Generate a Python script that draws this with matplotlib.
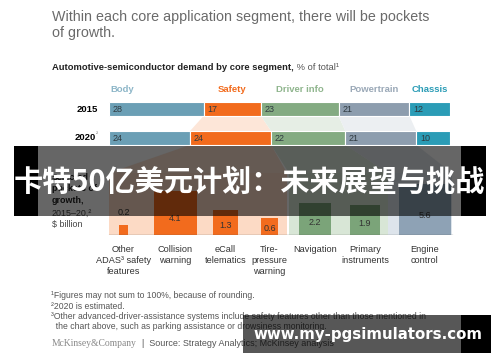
import numpy as np
import matplotlib.pyplot as plt

# ---- data ----
segments = ["Body", "Safety", "Driver info", "Powertrain", "Chassis"]
share_2015 = [28, 17, 23, 21, 12]
share_2020 = [24, 24, 22, 21, 10]
years = ["2015", "2020"]

pockets = ["Other\nADAS³ safety\nfeatures", "Collision\nwarning", "eCall\ntelematics",
           "Tire-\npressure\nwarning", "Navigation", "Primary\ninstruments", "Engine\ncontrol"]
growth = [0.2, 4.1, 1.3, 0.6, 2.2, 1.9, 5.6]
pocket_segment = ["Safety", "Safety", "Safety", "Safety", "Driver info", "Driver info", "Powertrain"]

footnotes = ["¹Figures may not sum to 100%, because of rounding.",
             "²2020 is estimated.",
             "³Other advanced-driver-assistance systems include safety features other than those mentioned in",
             "  the chart above, such as parking assistance or drowsiness monitoring."]

# ---- styles / layout ----
seg_colors = {"Body": "#6b9fb5", "Safety": "#f26b1d", "Driver info": "#84ab82",
              "Powertrain": "#8d9dae", "Chassis": "#2b9cb6"}
head_colors = {"Body": "#8db6c8", "Safety": "#f26b1d", "Driver info": "#8fb58d",
               "Powertrain": "#9aa8b7", "Chassis": "#2b9cb6"}
band_colors = {"Safety": "#fcdac5", "Driver info": "#d8e6d6", "Powertrain": "#dde4eb"}
link_colors = {"Safety": "#fde6d8", "Driver info": "#e6eee5", "Powertrain": "#eceff2"}
square_colors = {"Safety": "#f26b1d", "Driver info": "#7ba479", "Powertrain": "#8ea2b5"}
band_span = {"Safety": (109, 287), "Driver info": (289, 388), "Powertrain": (388, 452)}
pocket_x = [123.5, 175.5, 225.5, 269.5, 315, 365, 425]
K = 21.7  # px per sqrt($bn)

FONT = "Liberation Sans"
W, H = 500, 362
fig = plt.figure(figsize=(W / 100, H / 100), dpi=100)


def px_axes(x0, y0, x1, y1, z):
    return fig.add_axes([x0 / W, 1 - y1 / H, (x1 - x0) / W, (y1 - y0) / H], zorder=z)


bg = px_axes(0, 0, W, H, 0)
bg.set_xlim(0, W)
bg.set_ylim(H, 0)
bg.axis("off")


def to_bg(ax, x, y):
    return bg.transData.inverted().transform(ax.transData.transform((x, y)))


# ---- top stacked bars ----
ax = px_axes(109, 96, 450, 151, 2)
ax.set_xlim(0, sum(share_2015))
ax.set_ylim(1.45, -0.45)
ax.axis("off")
ax.patch.set_alpha(0)
bh = 0.48
lefts = {}
for row, vals in enumerate([share_2015, share_2020]):
    left = np.concatenate([[0], np.cumsum(vals)[:-1]])
    lefts[row] = left
    for seg, l, v in zip(segments, left, vals):
        ax.barh(row, v, left=l, height=bh, color=seg_colors[seg], edgecolor="white", lw=0.8)
        ax.text(l + 1.1, row + 0.02, str(v), ha="left", va="center", fontsize=6.5,
                color="#2f3a40", family=FONT)

# headers
for i, seg in enumerate(segments):
    if i == 0:
        ax.text(lefts[0][i] + 0.3, -0.66, seg, ha="left", va="center", fontsize=6.8,
                weight="bold", color=head_colors[seg], family=FONT, clip_on=False)
    else:
        ax.text(lefts[0][i] + share_2015[i] / 2, -0.66, seg, ha="center", va="center",
                fontsize=6.8, weight="bold", color=head_colors[seg], family=FONT, clip_on=False)

# row labels
ax.text(-3.2, 0, "2015", ha="right", va="center", fontsize=6.8, weight="bold", family=FONT)
t20 = ax.text(-3.9, 1, "2020", ha="right", va="center", fontsize=6.8, weight="bold", family=FONT)
ax.annotate("²", xy=(1, 0.55), xycoords=t20, ha="left", va="bottom", fontsize=4.8,
            color="#888888", family=FONT)

# connectors 2015 -> 2020
for i, seg in enumerate(segments):
    if seg not in band_colors:
        continue
    a0, a1 = lefts[0][i], lefts[0][i] + share_2015[i]
    b0, b1 = lefts[1][i], lefts[1][i] + share_2020[i]
    y0, y1 = bh / 2, 1 - bh / 2
    ax.fill([a0, a1, b1, b0], [y0, y0, y1, y1], color=link_colors[seg], lw=0, zorder=0)

# ---- lower pockets chart ----
ax2 = px_axes(100, 145, 460, 235, 2)
ax2.set_xlim(100, 460)
ax2.set_ylim(0, 90)
ax2.axis("off")
ax2.patch.set_alpha(0)

band_top = 62
for i, seg in enumerate(segments):
    if seg not in band_colors:
        continue
    x0, x1 = band_span[seg]
    ax2.bar((x0 + x1) / 2, band_top, width=x1 - x0, color=band_colors[seg], lw=0, zorder=0)
    # trapezoid from 2020 segment down to the band
    p0 = to_bg(ax, lefts[1][i], 1 + bh / 2)
    p1 = to_bg(ax, lefts[1][i] + share_2020[i], 1 + bh / 2)
    q0 = to_bg(ax2, x0, band_top)
    q1 = to_bg(ax2, x1, band_top)
    bg.fill([p0[0], p1[0], q1[0], q0[0]], [p0[1], p1[1], q1[1], q0[1]],
            color=band_colors[seg], lw=0, alpha=0.8)

sides = K * np.sqrt(growth)
for x, s, v, seg in zip(pocket_x, sides, growth, pocket_segment):
    ax2.bar(x, s, width=s, color=square_colors[seg], lw=0, zorder=2)
    ly = 22 if s < 12 else min(22, s / 2.6)
    ax2.text(x, ly, f"{v}", ha="center", va="center", fontsize=6.5, color="#333333",
             family=FONT, zorder=3)
ax2.plot([109, 452], [0, 0], color="#555555", lw=0.9, zorder=3)

for x, lab in zip(pocket_x, pockets):
    ax2.text(x, -10, lab, ha="center", va="top", fontsize=6.6, color="#333333",
             family=FONT, linespacing=1.3, clip_on=False)

# left label of lower chart
bg.text(52, 173, "Selected\npockets of\ngrowth,", ha="left", va="top", fontsize=6.4,
        weight="bold", family=FONT, linespacing=1.35, color="#222222")
bg.text(52, 209, "2015–20,²\n$ billion", ha="left", va="top", fontsize=6.4,
        family=FONT, linespacing=1.35, color="#444444")

# ---- titles ----
bg.text(52, 10, "Within each core application segment, there will be pockets\nof growth.",
        ha="left", va="top", fontsize=10.3, color="#6a6a6a", family=FONT, linespacing=1.2)
st = bg.text(52, 67, "Automotive-semiconductor demand by core segment,", ha="left",
             va="center", fontsize=6.75, weight="bold", family=FONT, color="#222222")
bg.annotate(" % of total¹", xy=(1, 0.5), xycoords=st, ha="left", va="center",
            fontsize=6.75, color="#555555", family=FONT)

# ---- footnotes / source ----
for k, line in enumerate(footnotes):
    bg.text(51, 296 + k * 10.3, line, ha="left", va="center", fontsize=6.2,
            color="#555555", family=FONT)
mk = bg.text(52, 343, "McKinsey&Company", ha="left", va="center", fontsize=6.9,
             color="#888888", family="Liberation Serif")
bg.annotate("  |  Source: Strategy Analytics; McKinsey analysis", xy=(1, 0.5), xycoords=mk,
            ha="left", va="center", fontsize=6.5, color="#555555", family=FONT)

# ---- overlays ----
ov = px_axes(0, 0, W, H, 10)
ov.set_xlim(0, W)
ov.set_ylim(H, 0)
ov.axis("off")
ov.patch.set_alpha(0)
ov.fill_between([38, 461], 146, 216, color="black", alpha=0.6, lw=0)
ov.fill_between([14, 38], 146, 216, color="black", lw=0)
ov.fill_between([461, 486], 146, 216, color="black", lw=0)
ov.text(249, 182, "卡特50亿美元计划：未来展望与挑战", ha="center", va="center", fontsize=21,
        weight="bold", color="white", family=["Noto Sans CJK SC", "DejaVu Sans"])

ov.fill_between([243, 461], 315, 353, color="black", alpha=0.66, lw=0)
ov.fill_between([461, 491], 315, 353, color="black", lw=0)
ov.text(253, 335, "www.my-pgsimulators.com", ha="left", va="center", fontsize=10.8,
        weight="bold", color="white", family="DejaVu Sans")

fig.savefig("out.png", dpi=100)
